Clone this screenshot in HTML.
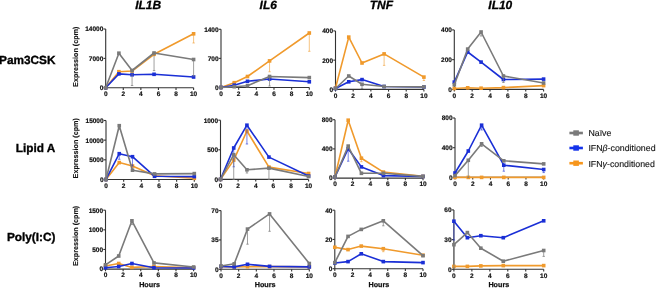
<!DOCTYPE html>
<html><head><meta charset="utf-8"><style>
html,body{margin:0;padding:0;background:#fff;}
body{width:656px;height:288px;overflow:hidden;}
svg{display:block;will-change:transform;filter:blur(0.3px);}
text{font-family:"Liberation Sans", sans-serif;text-rendering:geometricPrecision;}
.ttl{font-size:11.95px;font-weight:bold;font-style:italic;fill:#000;stroke:#000;stroke-width:0.3px;}
.row{font-size:11.8px;font-weight:bold;fill:#000;stroke:#000;stroke-width:0.35px;}
.yt{font-size:7.2px;font-weight:bold;fill:#111;stroke:#111;stroke-width:0.15px;}
.tk{font-size:6.5px;font-weight:bold;fill:#111;stroke:#111;stroke-width:0.2px;}
.hr{font-size:7.2px;font-weight:bold;fill:#111;stroke:#111;stroke-width:0.25px;}
.lg{font-size:8.8px;fill:#111;stroke:#111;stroke-width:0.12px;}
.ax{stroke:#333;stroke-width:1.1;fill:none;}
</style></head><body>
<svg width="656" height="288" viewBox="0 0 656 288">
<rect width="656" height="288" fill="#fff"/>
<text x="148.1" y="8.85" class="ttl" text-anchor="middle">IL1B</text>
<text x="268.2" y="8.85" class="ttl" text-anchor="middle">IL6</text>
<text x="381.35" y="8.85" class="ttl" text-anchor="middle">TNF</text>
<text x="500.3" y="8.85" class="ttl" text-anchor="middle">IL10</text>
<text x="55.4" y="63.9" class="row" text-anchor="end">Pam3CSK</text>
<text x="55.4" y="151.9" class="row" text-anchor="end">Lipid A</text>
<text x="55.4" y="240.6" class="row" text-anchor="end">Poly(I:C)</text>
<text transform="translate(78.1 56.75) rotate(-90)" class="yt" text-anchor="middle">Expression (cpm)</text>
<text transform="translate(78.1 148.25) rotate(-90)" class="yt" text-anchor="middle">Expression (cpm)</text>
<text transform="translate(78.1 235.9) rotate(-90)" class="yt" text-anchor="middle">Expression (cpm)</text>
<path d="M105.7 29V87.75H193.6" class="ax"/>
<path d="M103.5 29H105.7" class="ax"/>
<text x="103.3" y="31.35" class="tk" text-anchor="end">14000</text>
<path d="M103.5 58.38H105.7" class="ax"/>
<text x="103.3" y="60.73" class="tk" text-anchor="end">7000</text>
<path d="M103.5 87.75H105.7" class="ax"/>
<text x="103.3" y="90.1" class="tk" text-anchor="end">0</text>
<path d="M105.7 87.75V89.95" class="ax"/>
<text x="105.7" y="95.95" class="tk" text-anchor="middle">0</text>
<path d="M123.28 87.75V89.95" class="ax"/>
<text x="123.28" y="95.95" class="tk" text-anchor="middle">2</text>
<path d="M140.86 87.75V89.95" class="ax"/>
<text x="140.86" y="95.95" class="tk" text-anchor="middle">4</text>
<path d="M158.44 87.75V89.95" class="ax"/>
<text x="158.44" y="95.95" class="tk" text-anchor="middle">6</text>
<path d="M176.02 87.75V89.95" class="ax"/>
<text x="176.02" y="95.95" class="tk" text-anchor="middle">8</text>
<path d="M193.6 87.75V89.95" class="ax"/>
<text x="193.6" y="95.95" class="tk" text-anchor="middle">10</text>
<path d="M193.6 33.8V43M192.4 43H194.8" stroke="#f09a2c" stroke-width="0.9" fill="none" opacity="0.65"/>
<polyline points="105.7,87.75 118.89,71.7 132.07,71 154.05,54.3 193.6,33.8" fill="none" stroke="#f09a2c" stroke-width="1.6" stroke-linejoin="round"/>
<rect x="103.9" y="85.95" width="3.6" height="3.6" fill="#f09a2c"/>
<rect x="117.09" y="69.9" width="3.6" height="3.6" fill="#f09a2c"/>
<rect x="130.27" y="69.2" width="3.6" height="3.6" fill="#f09a2c"/>
<rect x="152.25" y="52.5" width="3.6" height="3.6" fill="#f09a2c"/>
<rect x="191.8" y="32" width="3.6" height="3.6" fill="#f09a2c"/>
<polyline points="105.7,87.75 118.89,73.9 132.07,74.8 154.05,74.3 193.6,77" fill="none" stroke="#1a2fd6" stroke-width="1.6" stroke-linejoin="round"/>
<rect x="103.9" y="85.95" width="3.6" height="3.6" fill="#1a2fd6"/>
<rect x="117.09" y="72.1" width="3.6" height="3.6" fill="#1a2fd6"/>
<rect x="130.27" y="73" width="3.6" height="3.6" fill="#1a2fd6"/>
<rect x="152.25" y="72.5" width="3.6" height="3.6" fill="#1a2fd6"/>
<rect x="191.8" y="75.2" width="3.6" height="3.6" fill="#1a2fd6"/>
<path d="M132.07 70.5V85.5M130.87 85.5H133.27" stroke="#7a7a7a" stroke-width="0.9" fill="none" opacity="0.8"/>
<path d="M154.05 53V70.6M152.85 70.6H155.25" stroke="#7a7a7a" stroke-width="0.9" fill="none" opacity="0.8"/>
<path d="M193.6 59.5V76M192.4 76H194.8" stroke="#7a7a7a" stroke-width="0.9" fill="none" opacity="0.8"/>
<polyline points="105.7,87.75 118.89,53.2 132.07,70.5 154.05,53 193.6,59.5" fill="none" stroke="#7a7a7a" stroke-width="1.6" stroke-linejoin="round"/>
<rect x="103.9" y="85.95" width="3.6" height="3.6" fill="#7a7a7a"/>
<rect x="117.09" y="51.4" width="3.6" height="3.6" fill="#7a7a7a"/>
<rect x="130.27" y="68.7" width="3.6" height="3.6" fill="#7a7a7a"/>
<rect x="152.25" y="51.2" width="3.6" height="3.6" fill="#7a7a7a"/>
<rect x="191.8" y="57.7" width="3.6" height="3.6" fill="#7a7a7a"/>
<path d="M221 29.3V87.45H309.3" class="ax"/>
<path d="M218.8 29.3H221" class="ax"/>
<text x="218.6" y="31.65" class="tk" text-anchor="end">1400</text>
<path d="M218.8 58.38H221" class="ax"/>
<text x="218.6" y="60.73" class="tk" text-anchor="end">700</text>
<path d="M218.8 87.45H221" class="ax"/>
<text x="218.6" y="89.8" class="tk" text-anchor="end">0</text>
<path d="M221 87.45V89.65" class="ax"/>
<text x="221" y="95.65" class="tk" text-anchor="middle">0</text>
<path d="M238.66 87.45V89.65" class="ax"/>
<text x="238.66" y="95.65" class="tk" text-anchor="middle">2</text>
<path d="M256.32 87.45V89.65" class="ax"/>
<text x="256.32" y="95.65" class="tk" text-anchor="middle">4</text>
<path d="M273.98 87.45V89.65" class="ax"/>
<text x="273.98" y="95.65" class="tk" text-anchor="middle">6</text>
<path d="M291.64 87.45V89.65" class="ax"/>
<text x="291.64" y="95.65" class="tk" text-anchor="middle">8</text>
<path d="M309.3 87.45V89.65" class="ax"/>
<text x="309.3" y="95.65" class="tk" text-anchor="middle">10</text>
<path d="M269.56 60.9V71.8M268.37 71.8H270.76" stroke="#f09a2c" stroke-width="0.9" fill="none" opacity="0.65"/>
<path d="M309.3 33V51.3M308.1 51.3H310.5" stroke="#f09a2c" stroke-width="0.9" fill="none" opacity="0.65"/>
<polyline points="221,87.45 234.25,82.7 247.49,76.5 269.56,60.9 309.3,33" fill="none" stroke="#f09a2c" stroke-width="1.6" stroke-linejoin="round"/>
<rect x="219.2" y="85.65" width="3.6" height="3.6" fill="#f09a2c"/>
<rect x="232.44" y="80.9" width="3.6" height="3.6" fill="#f09a2c"/>
<rect x="245.69" y="74.7" width="3.6" height="3.6" fill="#f09a2c"/>
<rect x="267.76" y="59.1" width="3.6" height="3.6" fill="#f09a2c"/>
<rect x="307.5" y="31.2" width="3.6" height="3.6" fill="#f09a2c"/>
<polyline points="221,87.45 234.25,85.2 247.49,81.3 269.56,79 309.3,81.8" fill="none" stroke="#1a2fd6" stroke-width="1.6" stroke-linejoin="round"/>
<rect x="219.2" y="85.65" width="3.6" height="3.6" fill="#1a2fd6"/>
<rect x="232.44" y="83.4" width="3.6" height="3.6" fill="#1a2fd6"/>
<rect x="245.69" y="79.5" width="3.6" height="3.6" fill="#1a2fd6"/>
<rect x="267.76" y="77.2" width="3.6" height="3.6" fill="#1a2fd6"/>
<rect x="307.5" y="80" width="3.6" height="3.6" fill="#1a2fd6"/>
<path d="M269.56 76.5V86M268.37 86H270.76" stroke="#7a7a7a" stroke-width="0.9" fill="none" opacity="0.8"/>
<polyline points="221,87.45 234.25,86.7 247.49,85.7 269.56,76.5 309.3,77.6" fill="none" stroke="#7a7a7a" stroke-width="1.6" stroke-linejoin="round"/>
<rect x="219.2" y="85.65" width="3.6" height="3.6" fill="#7a7a7a"/>
<rect x="232.44" y="84.9" width="3.6" height="3.6" fill="#7a7a7a"/>
<rect x="245.69" y="83.9" width="3.6" height="3.6" fill="#7a7a7a"/>
<rect x="267.76" y="74.7" width="3.6" height="3.6" fill="#7a7a7a"/>
<rect x="307.5" y="75.8" width="3.6" height="3.6" fill="#7a7a7a"/>
<path d="M335.5 30.9V89.4H423.9" class="ax"/>
<path d="M333.3 30.9H335.5" class="ax"/>
<text x="333.1" y="33.25" class="tk" text-anchor="end">400</text>
<path d="M333.3 60.15H335.5" class="ax"/>
<text x="333.1" y="62.5" class="tk" text-anchor="end">200</text>
<path d="M333.3 89.4H335.5" class="ax"/>
<text x="333.1" y="91.75" class="tk" text-anchor="end">0</text>
<path d="M335.5 89.4V91.6" class="ax"/>
<text x="335.5" y="97.6" class="tk" text-anchor="middle">0</text>
<path d="M353.18 89.4V91.6" class="ax"/>
<text x="353.18" y="97.6" class="tk" text-anchor="middle">2</text>
<path d="M370.86 89.4V91.6" class="ax"/>
<text x="370.86" y="97.6" class="tk" text-anchor="middle">4</text>
<path d="M388.54 89.4V91.6" class="ax"/>
<text x="388.54" y="97.6" class="tk" text-anchor="middle">6</text>
<path d="M406.22 89.4V91.6" class="ax"/>
<text x="406.22" y="97.6" class="tk" text-anchor="middle">8</text>
<path d="M423.9 89.4V91.6" class="ax"/>
<text x="423.9" y="97.6" class="tk" text-anchor="middle">10</text>
<path d="M384.12 53.9V65.4M382.92 65.4H385.32" stroke="#f09a2c" stroke-width="0.9" fill="none" opacity="0.65"/>
<path d="M423.9 77.1V80.5M422.7 80.5H425.1" stroke="#f09a2c" stroke-width="0.9" fill="none" opacity="0.65"/>
<polyline points="335.5,88 348.76,37.1 362.02,63 384.12,53.9 423.9,77.1" fill="none" stroke="#f09a2c" stroke-width="1.6" stroke-linejoin="round"/>
<rect x="333.7" y="86.2" width="3.6" height="3.6" fill="#f09a2c"/>
<rect x="346.96" y="35.3" width="3.6" height="3.6" fill="#f09a2c"/>
<rect x="360.22" y="61.2" width="3.6" height="3.6" fill="#f09a2c"/>
<rect x="382.32" y="52.1" width="3.6" height="3.6" fill="#f09a2c"/>
<rect x="422.1" y="75.3" width="3.6" height="3.6" fill="#f09a2c"/>
<polyline points="335.5,88.5 348.76,81.8 362.02,79.6 384.12,86.5 423.9,87" fill="none" stroke="#1a2fd6" stroke-width="1.6" stroke-linejoin="round"/>
<rect x="333.7" y="86.7" width="3.6" height="3.6" fill="#1a2fd6"/>
<rect x="346.96" y="80" width="3.6" height="3.6" fill="#1a2fd6"/>
<rect x="360.22" y="77.8" width="3.6" height="3.6" fill="#1a2fd6"/>
<rect x="382.32" y="84.7" width="3.6" height="3.6" fill="#1a2fd6"/>
<rect x="422.1" y="85.2" width="3.6" height="3.6" fill="#1a2fd6"/>
<path d="M362.02 84.3V88.5M360.82 88.5H363.22" stroke="#7a7a7a" stroke-width="0.9" fill="none" opacity="0.8"/>
<polyline points="335.5,88.5 348.76,76 362.02,84.3 384.12,86.5 423.9,86.9" fill="none" stroke="#7a7a7a" stroke-width="1.6" stroke-linejoin="round"/>
<rect x="333.7" y="86.7" width="3.6" height="3.6" fill="#7a7a7a"/>
<rect x="346.96" y="74.2" width="3.6" height="3.6" fill="#7a7a7a"/>
<rect x="360.22" y="82.5" width="3.6" height="3.6" fill="#7a7a7a"/>
<rect x="382.32" y="84.7" width="3.6" height="3.6" fill="#7a7a7a"/>
<rect x="422.1" y="85.1" width="3.6" height="3.6" fill="#7a7a7a"/>
<path d="M454.3 29.9V89.4H543.6" class="ax"/>
<path d="M452.1 29.9H454.3" class="ax"/>
<text x="451.9" y="32.25" class="tk" text-anchor="end">400</text>
<path d="M452.1 59.65H454.3" class="ax"/>
<text x="451.9" y="62" class="tk" text-anchor="end">200</text>
<path d="M452.1 89.4H454.3" class="ax"/>
<text x="451.9" y="91.75" class="tk" text-anchor="end">0</text>
<path d="M454.3 89.4V91.6" class="ax"/>
<text x="454.3" y="97.6" class="tk" text-anchor="middle">0</text>
<path d="M472.16 89.4V91.6" class="ax"/>
<text x="472.16" y="97.6" class="tk" text-anchor="middle">2</text>
<path d="M490.02 89.4V91.6" class="ax"/>
<text x="490.02" y="97.6" class="tk" text-anchor="middle">4</text>
<path d="M507.88 89.4V91.6" class="ax"/>
<text x="507.88" y="97.6" class="tk" text-anchor="middle">6</text>
<path d="M525.74 89.4V91.6" class="ax"/>
<text x="525.74" y="97.6" class="tk" text-anchor="middle">8</text>
<path d="M543.6 89.4V91.6" class="ax"/>
<text x="543.6" y="97.6" class="tk" text-anchor="middle">10</text>
<polyline points="454.3,88.5 467.69,87.8 481.09,88.2 503.42,87.6 543.6,85.6" fill="none" stroke="#f09a2c" stroke-width="1.6" stroke-linejoin="round"/>
<rect x="452.5" y="86.7" width="3.6" height="3.6" fill="#f09a2c"/>
<rect x="465.89" y="86" width="3.6" height="3.6" fill="#f09a2c"/>
<rect x="479.29" y="86.4" width="3.6" height="3.6" fill="#f09a2c"/>
<rect x="501.62" y="85.8" width="3.6" height="3.6" fill="#f09a2c"/>
<rect x="541.8" y="83.8" width="3.6" height="3.6" fill="#f09a2c"/>
<polyline points="454.3,82.1 467.69,52 481.09,62.1 503.42,79.5 543.6,79.1" fill="none" stroke="#1a2fd6" stroke-width="1.6" stroke-linejoin="round"/>
<rect x="452.5" y="80.3" width="3.6" height="3.6" fill="#1a2fd6"/>
<rect x="465.89" y="50.2" width="3.6" height="3.6" fill="#1a2fd6"/>
<rect x="479.29" y="60.3" width="3.6" height="3.6" fill="#1a2fd6"/>
<rect x="501.62" y="77.7" width="3.6" height="3.6" fill="#1a2fd6"/>
<rect x="541.8" y="77.3" width="3.6" height="3.6" fill="#1a2fd6"/>
<path d="M481.09 32V36M479.89 36H482.29" stroke="#7a7a7a" stroke-width="0.9" fill="none" opacity="0.8"/>
<path d="M503.42 76V82.5M502.22 82.5H504.62" stroke="#7a7a7a" stroke-width="0.9" fill="none" opacity="0.8"/>
<polyline points="454.3,84.7 467.69,49.1 481.09,32 503.42,76 543.6,83" fill="none" stroke="#7a7a7a" stroke-width="1.6" stroke-linejoin="round"/>
<rect x="452.5" y="82.9" width="3.6" height="3.6" fill="#7a7a7a"/>
<rect x="465.89" y="47.3" width="3.6" height="3.6" fill="#7a7a7a"/>
<rect x="479.29" y="30.2" width="3.6" height="3.6" fill="#7a7a7a"/>
<rect x="501.62" y="74.2" width="3.6" height="3.6" fill="#7a7a7a"/>
<rect x="541.8" y="81.2" width="3.6" height="3.6" fill="#7a7a7a"/>
<path d="M106 120.5V179.46H194.3" class="ax"/>
<path d="M103.8 120.5H106" class="ax"/>
<text x="103.6" y="122.85" class="tk" text-anchor="end">15000</text>
<path d="M103.8 140.15H106" class="ax"/>
<text x="103.6" y="142.5" class="tk" text-anchor="end">10000</text>
<path d="M103.8 159.81H106" class="ax"/>
<text x="103.6" y="162.16" class="tk" text-anchor="end">5000</text>
<path d="M103.8 179.46H106" class="ax"/>
<text x="103.6" y="181.81" class="tk" text-anchor="end">0</text>
<path d="M106 179.46V181.66" class="ax"/>
<text x="106" y="187.66" class="tk" text-anchor="middle">0</text>
<path d="M123.66 179.46V181.66" class="ax"/>
<text x="123.66" y="187.66" class="tk" text-anchor="middle">2</text>
<path d="M141.32 179.46V181.66" class="ax"/>
<text x="141.32" y="187.66" class="tk" text-anchor="middle">4</text>
<path d="M158.98 179.46V181.66" class="ax"/>
<text x="158.98" y="187.66" class="tk" text-anchor="middle">6</text>
<path d="M176.64 179.46V181.66" class="ax"/>
<text x="176.64" y="187.66" class="tk" text-anchor="middle">8</text>
<path d="M194.3 179.46V181.66" class="ax"/>
<text x="194.3" y="187.66" class="tk" text-anchor="middle">10</text>
<polyline points="106,179.46 119.25,162.6 132.49,166 154.56,175.8 194.3,178.3" fill="none" stroke="#f09a2c" stroke-width="1.6" stroke-linejoin="round"/>
<rect x="104.2" y="177.66" width="3.6" height="3.6" fill="#f09a2c"/>
<rect x="117.45" y="160.8" width="3.6" height="3.6" fill="#f09a2c"/>
<rect x="130.69" y="164.2" width="3.6" height="3.6" fill="#f09a2c"/>
<rect x="152.76" y="174" width="3.6" height="3.6" fill="#f09a2c"/>
<rect x="192.5" y="176.5" width="3.6" height="3.6" fill="#f09a2c"/>
<path d="M119.25 153.7V159.3M118.05 159.3H120.45" stroke="#1a2fd6" stroke-width="0.9" fill="none" opacity="0.65"/>
<path d="M132.49 156.7V166M131.29 166H133.69" stroke="#1a2fd6" stroke-width="0.9" fill="none" opacity="0.65"/>
<polyline points="106,179.46 119.25,153.7 132.49,156.7 154.56,176.3 194.3,176.6" fill="none" stroke="#1a2fd6" stroke-width="1.6" stroke-linejoin="round"/>
<rect x="104.2" y="177.66" width="3.6" height="3.6" fill="#1a2fd6"/>
<rect x="117.45" y="151.9" width="3.6" height="3.6" fill="#1a2fd6"/>
<rect x="130.69" y="154.9" width="3.6" height="3.6" fill="#1a2fd6"/>
<rect x="152.76" y="174.5" width="3.6" height="3.6" fill="#1a2fd6"/>
<rect x="192.5" y="174.8" width="3.6" height="3.6" fill="#1a2fd6"/>
<path d="M119.25 125.7V129.3M118.05 129.3H120.45" stroke="#7a7a7a" stroke-width="0.9" fill="none" opacity="0.8"/>
<polyline points="106,179.46 119.25,125.7 132.49,170.2 154.56,173.9 194.3,173.6" fill="none" stroke="#7a7a7a" stroke-width="1.6" stroke-linejoin="round"/>
<rect x="104.2" y="177.66" width="3.6" height="3.6" fill="#7a7a7a"/>
<rect x="117.45" y="123.9" width="3.6" height="3.6" fill="#7a7a7a"/>
<rect x="130.69" y="168.4" width="3.6" height="3.6" fill="#7a7a7a"/>
<rect x="152.76" y="172.1" width="3.6" height="3.6" fill="#7a7a7a"/>
<rect x="192.5" y="171.8" width="3.6" height="3.6" fill="#7a7a7a"/>
<path d="M220.5 120.2V179.4H308.6" class="ax"/>
<path d="M218.3 120.2H220.5" class="ax"/>
<text x="218.1" y="122.55" class="tk" text-anchor="end">1000</text>
<path d="M218.3 149.8H220.5" class="ax"/>
<text x="218.1" y="152.15" class="tk" text-anchor="end">500</text>
<path d="M218.3 179.4H220.5" class="ax"/>
<text x="218.1" y="181.75" class="tk" text-anchor="end">0</text>
<path d="M220.5 179.4V181.6" class="ax"/>
<text x="220.5" y="187.6" class="tk" text-anchor="middle">0</text>
<path d="M238.12 179.4V181.6" class="ax"/>
<text x="238.12" y="187.6" class="tk" text-anchor="middle">2</text>
<path d="M255.74 179.4V181.6" class="ax"/>
<text x="255.74" y="187.6" class="tk" text-anchor="middle">4</text>
<path d="M273.36 179.4V181.6" class="ax"/>
<text x="273.36" y="187.6" class="tk" text-anchor="middle">6</text>
<path d="M290.98 179.4V181.6" class="ax"/>
<text x="290.98" y="187.6" class="tk" text-anchor="middle">8</text>
<path d="M308.6 179.4V181.6" class="ax"/>
<text x="308.6" y="187.6" class="tk" text-anchor="middle">10</text>
<polyline points="220.5,179.4 233.72,160.1 246.93,131 268.95,167.1 308.6,173.5" fill="none" stroke="#f09a2c" stroke-width="1.6" stroke-linejoin="round"/>
<rect x="218.7" y="177.6" width="3.6" height="3.6" fill="#f09a2c"/>
<rect x="231.91" y="158.3" width="3.6" height="3.6" fill="#f09a2c"/>
<rect x="245.13" y="129.2" width="3.6" height="3.6" fill="#f09a2c"/>
<rect x="267.15" y="165.3" width="3.6" height="3.6" fill="#f09a2c"/>
<rect x="306.8" y="171.7" width="3.6" height="3.6" fill="#f09a2c"/>
<path d="M246.93 125.2V144M245.73 144H248.13" stroke="#1a2fd6" stroke-width="0.9" fill="none" opacity="0.65"/>
<path d="M233.72 148V166.8M232.52 166.8H234.91" stroke="#1a2fd6" stroke-width="0.9" fill="none" opacity="0.65"/>
<polyline points="220.5,179.4 233.72,148 246.93,125.2 268.95,157.1 308.6,176" fill="none" stroke="#1a2fd6" stroke-width="1.6" stroke-linejoin="round"/>
<rect x="218.7" y="177.6" width="3.6" height="3.6" fill="#1a2fd6"/>
<rect x="231.91" y="146.2" width="3.6" height="3.6" fill="#1a2fd6"/>
<rect x="245.13" y="123.4" width="3.6" height="3.6" fill="#1a2fd6"/>
<rect x="267.15" y="155.3" width="3.6" height="3.6" fill="#1a2fd6"/>
<rect x="306.8" y="174.2" width="3.6" height="3.6" fill="#1a2fd6"/>
<path d="M233.72 154.7V179.4M232.52 179.4H234.91" stroke="#7a7a7a" stroke-width="0.9" fill="none" opacity="0.8"/>
<path d="M268.95 168.1V179.4M267.75 179.4H270.15" stroke="#7a7a7a" stroke-width="0.9" fill="none" opacity="0.8"/>
<path d="M246.93 169.8V173M245.73 173H248.13" stroke="#7a7a7a" stroke-width="0.9" fill="none" opacity="0.8"/>
<polyline points="220.5,179.4 233.72,154.7 246.93,169.8 268.95,168.1 308.6,176.5" fill="none" stroke="#7a7a7a" stroke-width="1.6" stroke-linejoin="round"/>
<rect x="218.7" y="177.6" width="3.6" height="3.6" fill="#7a7a7a"/>
<rect x="231.91" y="152.9" width="3.6" height="3.6" fill="#7a7a7a"/>
<rect x="245.13" y="168" width="3.6" height="3.6" fill="#7a7a7a"/>
<rect x="267.15" y="166.3" width="3.6" height="3.6" fill="#7a7a7a"/>
<rect x="306.8" y="174.7" width="3.6" height="3.6" fill="#7a7a7a"/>
<path d="M335 119.7V178.1H423" class="ax"/>
<path d="M332.8 119.7H335" class="ax"/>
<text x="332.6" y="122.05" class="tk" text-anchor="end">800</text>
<path d="M332.8 148.9H335" class="ax"/>
<text x="332.6" y="151.25" class="tk" text-anchor="end">400</text>
<path d="M332.8 178.1H335" class="ax"/>
<text x="332.6" y="180.45" class="tk" text-anchor="end">0</text>
<path d="M335 178.1V180.3" class="ax"/>
<text x="335" y="186.3" class="tk" text-anchor="middle">0</text>
<path d="M352.6 178.1V180.3" class="ax"/>
<text x="352.6" y="186.3" class="tk" text-anchor="middle">2</text>
<path d="M370.2 178.1V180.3" class="ax"/>
<text x="370.2" y="186.3" class="tk" text-anchor="middle">4</text>
<path d="M387.8 178.1V180.3" class="ax"/>
<text x="387.8" y="186.3" class="tk" text-anchor="middle">6</text>
<path d="M405.4 178.1V180.3" class="ax"/>
<text x="405.4" y="186.3" class="tk" text-anchor="middle">8</text>
<path d="M423 178.1V180.3" class="ax"/>
<text x="423" y="186.3" class="tk" text-anchor="middle">10</text>
<path d="M361.4 158.2V161.7M360.2 161.7H362.6" stroke="#f09a2c" stroke-width="0.9" fill="none" opacity="0.65"/>
<polyline points="335,177 348.2,120.2 361.4,158.2 383.4,172.1 423,176.4" fill="none" stroke="#f09a2c" stroke-width="1.6" stroke-linejoin="round"/>
<rect x="333.2" y="175.2" width="3.6" height="3.6" fill="#f09a2c"/>
<rect x="346.4" y="118.4" width="3.6" height="3.6" fill="#f09a2c"/>
<rect x="359.6" y="156.4" width="3.6" height="3.6" fill="#f09a2c"/>
<rect x="381.6" y="170.3" width="3.6" height="3.6" fill="#f09a2c"/>
<rect x="421.2" y="174.6" width="3.6" height="3.6" fill="#f09a2c"/>
<path d="M348.2 148.7V161.2M347 161.2H349.4" stroke="#1a2fd6" stroke-width="0.9" fill="none" opacity="0.65"/>
<polyline points="335,177 348.2,148.7 361.4,166.9 383.4,175.6 423,176.5" fill="none" stroke="#1a2fd6" stroke-width="1.6" stroke-linejoin="round"/>
<rect x="333.2" y="175.2" width="3.6" height="3.6" fill="#1a2fd6"/>
<rect x="346.4" y="146.9" width="3.6" height="3.6" fill="#1a2fd6"/>
<rect x="359.6" y="165.1" width="3.6" height="3.6" fill="#1a2fd6"/>
<rect x="381.6" y="173.8" width="3.6" height="3.6" fill="#1a2fd6"/>
<rect x="421.2" y="174.7" width="3.6" height="3.6" fill="#1a2fd6"/>
<polyline points="335,177 348.2,146.1 361.4,173.3 383.4,173.3 423,176.4" fill="none" stroke="#7a7a7a" stroke-width="1.6" stroke-linejoin="round"/>
<rect x="333.2" y="175.2" width="3.6" height="3.6" fill="#7a7a7a"/>
<rect x="346.4" y="144.3" width="3.6" height="3.6" fill="#7a7a7a"/>
<rect x="359.6" y="171.5" width="3.6" height="3.6" fill="#7a7a7a"/>
<rect x="381.6" y="171.5" width="3.6" height="3.6" fill="#7a7a7a"/>
<rect x="421.2" y="174.6" width="3.6" height="3.6" fill="#7a7a7a"/>
<path d="M455 118V177.4H543.7" class="ax"/>
<path d="M452.8 118H455" class="ax"/>
<text x="452.6" y="120.35" class="tk" text-anchor="end">800</text>
<path d="M452.8 147.7H455" class="ax"/>
<text x="452.6" y="150.05" class="tk" text-anchor="end">400</text>
<path d="M452.8 177.4H455" class="ax"/>
<text x="452.6" y="179.75" class="tk" text-anchor="end">0</text>
<path d="M455 177.4V179.6" class="ax"/>
<text x="455" y="185.6" class="tk" text-anchor="middle">0</text>
<path d="M472.74 177.4V179.6" class="ax"/>
<text x="472.74" y="185.6" class="tk" text-anchor="middle">2</text>
<path d="M490.48 177.4V179.6" class="ax"/>
<text x="490.48" y="185.6" class="tk" text-anchor="middle">4</text>
<path d="M508.22 177.4V179.6" class="ax"/>
<text x="508.22" y="185.6" class="tk" text-anchor="middle">6</text>
<path d="M525.96 177.4V179.6" class="ax"/>
<text x="525.96" y="185.6" class="tk" text-anchor="middle">8</text>
<path d="M543.7 177.4V179.6" class="ax"/>
<text x="543.7" y="185.6" class="tk" text-anchor="middle">10</text>
<polyline points="455,177.4 468.31,177.4 481.61,177.4 503.78,177.4 543.7,177.4" fill="none" stroke="#f09a2c" stroke-width="1.6" stroke-linejoin="round"/>
<rect x="453.2" y="175.6" width="3.6" height="3.6" fill="#f09a2c"/>
<rect x="466.5" y="175.6" width="3.6" height="3.6" fill="#f09a2c"/>
<rect x="479.81" y="175.6" width="3.6" height="3.6" fill="#f09a2c"/>
<rect x="501.98" y="175.6" width="3.6" height="3.6" fill="#f09a2c"/>
<rect x="541.9" y="175.6" width="3.6" height="3.6" fill="#f09a2c"/>
<path d="M503.78 165.2V171.2M502.58 171.2H504.98" stroke="#1a2fd6" stroke-width="0.9" fill="none" opacity="0.65"/>
<path d="M543.7 169.5V172.6M542.5 172.6H544.9" stroke="#1a2fd6" stroke-width="0.9" fill="none" opacity="0.65"/>
<path d="M481.61 125.2V130M480.41 130H482.81" stroke="#1a2fd6" stroke-width="0.9" fill="none" opacity="0.65"/>
<polyline points="455,173 468.31,151 481.61,125.2 503.78,165.2 543.7,169.5" fill="none" stroke="#1a2fd6" stroke-width="1.6" stroke-linejoin="round"/>
<rect x="453.2" y="171.2" width="3.6" height="3.6" fill="#1a2fd6"/>
<rect x="466.5" y="149.2" width="3.6" height="3.6" fill="#1a2fd6"/>
<rect x="479.81" y="123.4" width="3.6" height="3.6" fill="#1a2fd6"/>
<rect x="501.98" y="163.4" width="3.6" height="3.6" fill="#1a2fd6"/>
<rect x="541.9" y="167.7" width="3.6" height="3.6" fill="#1a2fd6"/>
<path d="M468.31 160.3V177.4M467.11 177.4H469.5" stroke="#7a7a7a" stroke-width="0.9" fill="none" opacity="0.8"/>
<path d="M481.61 143.8V146.5M480.41 146.5H482.81" stroke="#7a7a7a" stroke-width="0.9" fill="none" opacity="0.8"/>
<polyline points="455,175.6 468.31,160.3 481.61,143.8 503.78,160.8 543.7,163.9" fill="none" stroke="#7a7a7a" stroke-width="1.6" stroke-linejoin="round"/>
<rect x="453.2" y="173.8" width="3.6" height="3.6" fill="#7a7a7a"/>
<rect x="466.5" y="158.5" width="3.6" height="3.6" fill="#7a7a7a"/>
<rect x="479.81" y="142" width="3.6" height="3.6" fill="#7a7a7a"/>
<rect x="501.98" y="159" width="3.6" height="3.6" fill="#7a7a7a"/>
<rect x="541.9" y="162.1" width="3.6" height="3.6" fill="#7a7a7a"/>
<path d="M105.5 210.2V269.1H193.6" class="ax"/>
<path d="M103.3 210.2H105.5" class="ax"/>
<text x="103.1" y="212.55" class="tk" text-anchor="end">1500</text>
<path d="M103.3 229.83H105.5" class="ax"/>
<text x="103.1" y="232.18" class="tk" text-anchor="end">1000</text>
<path d="M103.3 249.47H105.5" class="ax"/>
<text x="103.1" y="251.82" class="tk" text-anchor="end">500</text>
<path d="M103.3 269.1H105.5" class="ax"/>
<text x="103.1" y="271.45" class="tk" text-anchor="end">0</text>
<path d="M105.5 269.1V271.3" class="ax"/>
<text x="105.5" y="277.3" class="tk" text-anchor="middle">0</text>
<path d="M123.12 269.1V271.3" class="ax"/>
<text x="123.12" y="277.3" class="tk" text-anchor="middle">2</text>
<path d="M140.74 269.1V271.3" class="ax"/>
<text x="140.74" y="277.3" class="tk" text-anchor="middle">4</text>
<path d="M158.36 269.1V271.3" class="ax"/>
<text x="158.36" y="277.3" class="tk" text-anchor="middle">6</text>
<path d="M175.98 269.1V271.3" class="ax"/>
<text x="175.98" y="277.3" class="tk" text-anchor="middle">8</text>
<path d="M193.6 269.1V271.3" class="ax"/>
<text x="193.6" y="277.3" class="tk" text-anchor="middle">10</text>
<text x="149.55" y="287.3" class="hr" text-anchor="middle">Hours</text>
<polyline points="105.5,266 118.72,263.5 131.93,267.4 153.96,266.5 193.6,267.7" fill="none" stroke="#f09a2c" stroke-width="1.6" stroke-linejoin="round"/>
<rect x="103.7" y="264.2" width="3.6" height="3.6" fill="#f09a2c"/>
<rect x="116.92" y="261.7" width="3.6" height="3.6" fill="#f09a2c"/>
<rect x="130.13" y="265.6" width="3.6" height="3.6" fill="#f09a2c"/>
<rect x="152.16" y="264.7" width="3.6" height="3.6" fill="#f09a2c"/>
<rect x="191.8" y="265.9" width="3.6" height="3.6" fill="#f09a2c"/>
<polyline points="105.5,267.7 118.72,266.5 131.93,263.5 153.96,267.7 193.6,268" fill="none" stroke="#1a2fd6" stroke-width="1.6" stroke-linejoin="round"/>
<rect x="103.7" y="265.9" width="3.6" height="3.6" fill="#1a2fd6"/>
<rect x="116.92" y="264.7" width="3.6" height="3.6" fill="#1a2fd6"/>
<rect x="130.13" y="261.7" width="3.6" height="3.6" fill="#1a2fd6"/>
<rect x="152.16" y="265.9" width="3.6" height="3.6" fill="#1a2fd6"/>
<rect x="191.8" y="266.2" width="3.6" height="3.6" fill="#1a2fd6"/>
<path d="M131.93 220.8V224.6M130.73 224.6H133.13" stroke="#7a7a7a" stroke-width="0.9" fill="none" opacity="0.8"/>
<polyline points="105.5,264.8 118.72,256 131.93,220.8 153.96,262.9 193.6,267" fill="none" stroke="#7a7a7a" stroke-width="1.6" stroke-linejoin="round"/>
<rect x="103.7" y="263" width="3.6" height="3.6" fill="#7a7a7a"/>
<rect x="116.92" y="254.2" width="3.6" height="3.6" fill="#7a7a7a"/>
<rect x="130.13" y="219" width="3.6" height="3.6" fill="#7a7a7a"/>
<rect x="152.16" y="261.1" width="3.6" height="3.6" fill="#7a7a7a"/>
<rect x="191.8" y="265.2" width="3.6" height="3.6" fill="#7a7a7a"/>
<path d="M221 210.6V269.3H309.3" class="ax"/>
<path d="M218.8 210.6H221" class="ax"/>
<text x="218.6" y="212.95" class="tk" text-anchor="end">70</text>
<path d="M218.8 239.95H221" class="ax"/>
<text x="218.6" y="242.3" class="tk" text-anchor="end">35</text>
<path d="M218.8 269.3H221" class="ax"/>
<text x="218.6" y="271.65" class="tk" text-anchor="end">0</text>
<path d="M221 269.3V271.5" class="ax"/>
<text x="221" y="277.5" class="tk" text-anchor="middle">0</text>
<path d="M238.66 269.3V271.5" class="ax"/>
<text x="238.66" y="277.5" class="tk" text-anchor="middle">2</text>
<path d="M256.32 269.3V271.5" class="ax"/>
<text x="256.32" y="277.5" class="tk" text-anchor="middle">4</text>
<path d="M273.98 269.3V271.5" class="ax"/>
<text x="273.98" y="277.5" class="tk" text-anchor="middle">6</text>
<path d="M291.64 269.3V271.5" class="ax"/>
<text x="291.64" y="277.5" class="tk" text-anchor="middle">8</text>
<path d="M309.3 269.3V271.5" class="ax"/>
<text x="309.3" y="277.5" class="tk" text-anchor="middle">10</text>
<text x="265.15" y="287.3" class="hr" text-anchor="middle">Hours</text>
<polyline points="221,266.6 234.25,266.9 247.49,266.7 269.56,266.6 309.3,266.9" fill="none" stroke="#f09a2c" stroke-width="1.6" stroke-linejoin="round"/>
<rect x="219.2" y="264.8" width="3.6" height="3.6" fill="#f09a2c"/>
<rect x="232.44" y="265.1" width="3.6" height="3.6" fill="#f09a2c"/>
<rect x="245.69" y="264.9" width="3.6" height="3.6" fill="#f09a2c"/>
<rect x="267.76" y="264.8" width="3.6" height="3.6" fill="#f09a2c"/>
<rect x="307.5" y="265.1" width="3.6" height="3.6" fill="#f09a2c"/>
<polyline points="221,266.5 234.25,266.9 247.49,264.3 269.56,266.4 309.3,266.9" fill="none" stroke="#1a2fd6" stroke-width="1.6" stroke-linejoin="round"/>
<rect x="219.2" y="264.7" width="3.6" height="3.6" fill="#1a2fd6"/>
<rect x="232.44" y="265.1" width="3.6" height="3.6" fill="#1a2fd6"/>
<rect x="245.69" y="262.5" width="3.6" height="3.6" fill="#1a2fd6"/>
<rect x="267.76" y="264.6" width="3.6" height="3.6" fill="#1a2fd6"/>
<rect x="307.5" y="265.1" width="3.6" height="3.6" fill="#1a2fd6"/>
<path d="M247.49 229.1V244.2M246.29 244.2H248.69" stroke="#7a7a7a" stroke-width="0.9" fill="none" opacity="0.8"/>
<path d="M269.56 213.9V231.3M268.37 231.3H270.76" stroke="#7a7a7a" stroke-width="0.9" fill="none" opacity="0.8"/>
<path d="M309.3 263.5V267M308.1 267H310.5" stroke="#7a7a7a" stroke-width="0.9" fill="none" opacity="0.8"/>
<polyline points="221,266 234.25,263.8 247.49,229.1 269.56,213.9 309.3,263.5" fill="none" stroke="#7a7a7a" stroke-width="1.6" stroke-linejoin="round"/>
<rect x="219.2" y="264.2" width="3.6" height="3.6" fill="#7a7a7a"/>
<rect x="232.44" y="262" width="3.6" height="3.6" fill="#7a7a7a"/>
<rect x="245.69" y="227.3" width="3.6" height="3.6" fill="#7a7a7a"/>
<rect x="267.76" y="212.1" width="3.6" height="3.6" fill="#7a7a7a"/>
<rect x="307.5" y="261.7" width="3.6" height="3.6" fill="#7a7a7a"/>
<path d="M334.8 210.2V268.7H423" class="ax"/>
<path d="M332.6 210.2H334.8" class="ax"/>
<text x="332.4" y="212.55" class="tk" text-anchor="end">40</text>
<path d="M332.6 239.45H334.8" class="ax"/>
<text x="332.4" y="241.8" class="tk" text-anchor="end">20</text>
<path d="M332.6 268.7H334.8" class="ax"/>
<text x="332.4" y="271.05" class="tk" text-anchor="end">0</text>
<path d="M334.8 268.7V270.9" class="ax"/>
<text x="334.8" y="276.9" class="tk" text-anchor="middle">0</text>
<path d="M352.44 268.7V270.9" class="ax"/>
<text x="352.44" y="276.9" class="tk" text-anchor="middle">2</text>
<path d="M370.08 268.7V270.9" class="ax"/>
<text x="370.08" y="276.9" class="tk" text-anchor="middle">4</text>
<path d="M387.72 268.7V270.9" class="ax"/>
<text x="387.72" y="276.9" class="tk" text-anchor="middle">6</text>
<path d="M405.36 268.7V270.9" class="ax"/>
<text x="405.36" y="276.9" class="tk" text-anchor="middle">8</text>
<path d="M423 268.7V270.9" class="ax"/>
<text x="423" y="276.9" class="tk" text-anchor="middle">10</text>
<text x="378.9" y="287.3" class="hr" text-anchor="middle">Hours</text>
<path d="M383.31 248.7V251.7M382.11 251.7H384.51" stroke="#f09a2c" stroke-width="0.9" fill="none" opacity="0.65"/>
<polyline points="334.8,247.3 348.03,249.6 361.26,246.1 383.31,248.7 423,255.2" fill="none" stroke="#f09a2c" stroke-width="1.6" stroke-linejoin="round"/>
<rect x="333" y="245.5" width="3.6" height="3.6" fill="#f09a2c"/>
<rect x="346.23" y="247.8" width="3.6" height="3.6" fill="#f09a2c"/>
<rect x="359.46" y="244.3" width="3.6" height="3.6" fill="#f09a2c"/>
<rect x="381.51" y="246.9" width="3.6" height="3.6" fill="#f09a2c"/>
<rect x="421.2" y="253.4" width="3.6" height="3.6" fill="#f09a2c"/>
<polyline points="334.8,263 348.03,261.6 361.26,253.8 383.31,261.6 423,262.6" fill="none" stroke="#1a2fd6" stroke-width="1.6" stroke-linejoin="round"/>
<rect x="333" y="261.2" width="3.6" height="3.6" fill="#1a2fd6"/>
<rect x="346.23" y="259.8" width="3.6" height="3.6" fill="#1a2fd6"/>
<rect x="359.46" y="252" width="3.6" height="3.6" fill="#1a2fd6"/>
<rect x="381.51" y="259.8" width="3.6" height="3.6" fill="#1a2fd6"/>
<rect x="421.2" y="260.8" width="3.6" height="3.6" fill="#1a2fd6"/>
<path d="M383.31 220.8V225.8M382.11 225.8H384.51" stroke="#7a7a7a" stroke-width="0.9" fill="none" opacity="0.8"/>
<polyline points="334.8,262.6 348.03,236.4 361.26,229.4 383.31,220.8 423,255.7" fill="none" stroke="#7a7a7a" stroke-width="1.6" stroke-linejoin="round"/>
<rect x="333" y="260.8" width="3.6" height="3.6" fill="#7a7a7a"/>
<rect x="346.23" y="234.6" width="3.6" height="3.6" fill="#7a7a7a"/>
<rect x="359.46" y="227.6" width="3.6" height="3.6" fill="#7a7a7a"/>
<rect x="381.51" y="219" width="3.6" height="3.6" fill="#7a7a7a"/>
<rect x="421.2" y="253.9" width="3.6" height="3.6" fill="#7a7a7a"/>
<path d="M453.9 209.9V269.3H543.7" class="ax"/>
<path d="M451.7 209.9H453.9" class="ax"/>
<text x="451.5" y="212.25" class="tk" text-anchor="end">60</text>
<path d="M451.7 239.6H453.9" class="ax"/>
<text x="451.5" y="241.95" class="tk" text-anchor="end">30</text>
<path d="M451.7 269.3H453.9" class="ax"/>
<text x="451.5" y="271.65" class="tk" text-anchor="end">0</text>
<path d="M453.9 269.3V271.5" class="ax"/>
<text x="453.9" y="277.5" class="tk" text-anchor="middle">0</text>
<path d="M471.86 269.3V271.5" class="ax"/>
<text x="471.86" y="277.5" class="tk" text-anchor="middle">2</text>
<path d="M489.82 269.3V271.5" class="ax"/>
<text x="489.82" y="277.5" class="tk" text-anchor="middle">4</text>
<path d="M507.78 269.3V271.5" class="ax"/>
<text x="507.78" y="277.5" class="tk" text-anchor="middle">6</text>
<path d="M525.74 269.3V271.5" class="ax"/>
<text x="525.74" y="277.5" class="tk" text-anchor="middle">8</text>
<path d="M543.7 269.3V271.5" class="ax"/>
<text x="543.7" y="277.5" class="tk" text-anchor="middle">10</text>
<text x="498.8" y="287.3" class="hr" text-anchor="middle">Hours</text>
<polyline points="453.9,266.4 467.37,266.4 480.84,265.9 503.29,265.6 543.7,265.6" fill="none" stroke="#f09a2c" stroke-width="1.6" stroke-linejoin="round"/>
<rect x="452.1" y="264.6" width="3.6" height="3.6" fill="#f09a2c"/>
<rect x="465.57" y="264.6" width="3.6" height="3.6" fill="#f09a2c"/>
<rect x="479.04" y="264.1" width="3.6" height="3.6" fill="#f09a2c"/>
<rect x="501.49" y="263.8" width="3.6" height="3.6" fill="#f09a2c"/>
<rect x="541.9" y="263.8" width="3.6" height="3.6" fill="#f09a2c"/>
<path d="M453.9 221.2V240M452.7 240H455.1" stroke="#1a2fd6" stroke-width="0.9" fill="none" opacity="0.65"/>
<polyline points="453.9,221.2 467.37,237.7 480.84,235.7 503.29,237.7 543.7,220.8" fill="none" stroke="#1a2fd6" stroke-width="1.6" stroke-linejoin="round"/>
<rect x="452.1" y="219.4" width="3.6" height="3.6" fill="#1a2fd6"/>
<rect x="465.57" y="235.9" width="3.6" height="3.6" fill="#1a2fd6"/>
<rect x="479.04" y="233.9" width="3.6" height="3.6" fill="#1a2fd6"/>
<rect x="501.49" y="235.9" width="3.6" height="3.6" fill="#1a2fd6"/>
<rect x="541.9" y="219" width="3.6" height="3.6" fill="#1a2fd6"/>
<path d="M543.7 250.5V256.4M542.5 256.4H544.9" stroke="#7a7a7a" stroke-width="0.9" fill="none" opacity="0.8"/>
<path d="M453.9 244.7V268M452.7 268H455.1" stroke="#7a7a7a" stroke-width="0.9" fill="none" opacity="0.8"/>
<polyline points="453.9,244.7 467.37,232.6 480.84,248.2 503.29,261.2 543.7,250.5" fill="none" stroke="#7a7a7a" stroke-width="1.6" stroke-linejoin="round"/>
<rect x="452.1" y="242.9" width="3.6" height="3.6" fill="#7a7a7a"/>
<rect x="465.57" y="230.8" width="3.6" height="3.6" fill="#7a7a7a"/>
<rect x="479.04" y="246.4" width="3.6" height="3.6" fill="#7a7a7a"/>
<rect x="501.49" y="259.4" width="3.6" height="3.6" fill="#7a7a7a"/>
<rect x="541.9" y="248.7" width="3.6" height="3.6" fill="#7a7a7a"/>
<path d="M569.4 133H582.9" stroke="#7a7a7a" stroke-width="2.6"/>
<rect x="573.3" y="130.3" width="5.6" height="5.4" fill="#7a7a7a"/>
<text x="588.4" y="135.7" class="lg">Naïve</text>
<path d="M569.4 148H582.9" stroke="#1433ea" stroke-width="2.6"/>
<rect x="573.3" y="145.3" width="5.6" height="5.4" fill="#1433ea"/>
<text x="588.4" y="151.1" class="lg">IFN<tspan font-style="italic">β</tspan>-conditioned</text>
<path d="M569.4 163.2H582.9" stroke="#f7961c" stroke-width="2.6"/>
<rect x="573.3" y="160.5" width="5.6" height="5.4" fill="#f7961c"/>
<text x="588.4" y="166.8" class="lg">IFN<tspan font-style="italic">γ</tspan>-conditioned</text>
</svg>
</body></html>
